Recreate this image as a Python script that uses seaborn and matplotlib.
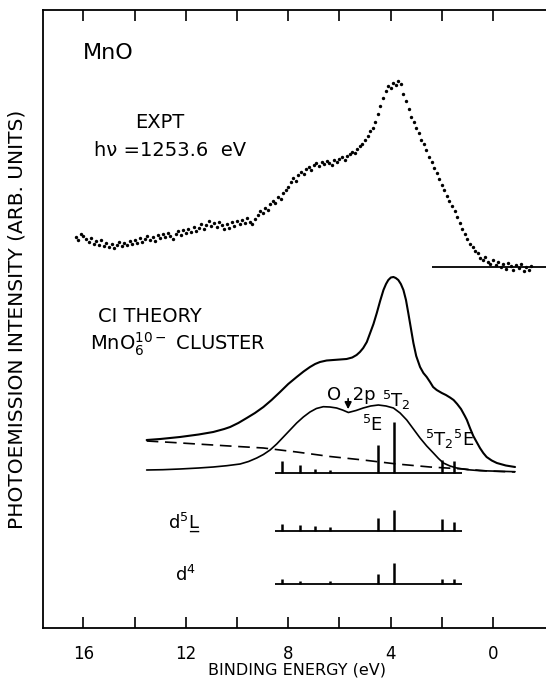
import numpy as np
import pandas as pd
import matplotlib
matplotlib.use("Agg")
import matplotlib.pyplot as plt
import seaborn as sns

# experimental XPS dots (binding energy eV, intensity arb.)
expt_E = [16.3, 16.2, 16.1, 16.0, 15.9, 15.8, 15.7, 15.6, 15.5, 15.4, 15.3, 15.2, 15.1, 15.0,
          14.9, 14.8, 14.7, 14.6, 14.5, 14.4, 14.3, 14.2, 14.1, 14.0, 13.9, 13.8, 13.7, 13.6,
          13.5, 13.4, 13.3, 13.2, 13.1, 13.0, 12.9, 12.8, 12.7, 12.6, 12.5, 12.4, 12.3, 12.2,
          12.1, 12.0, 11.9, 11.8, 11.7, 11.6, 11.5, 11.4, 11.3, 11.2, 11.1, 11.0, 10.9, 10.8,
          10.7, 10.6, 10.5, 10.4, 10.3, 10.2, 10.1, 10.0, 9.9, 9.8, 9.7, 9.6, 9.5, 9.4, 9.3,
          9.2, 9.1, 9.0, 8.9, 8.8, 8.7, 8.6, 8.5, 8.4, 8.3, 8.2, 8.1, 8.0, 7.9, 7.8, 7.7, 7.6,
          7.5, 7.4, 7.3, 7.2, 7.1, 7.0, 6.9, 6.8, 6.7, 6.6, 6.5, 6.4, 6.3, 6.2, 6.1, 6.0, 5.9,
          5.8, 5.7, 5.6, 5.5, 5.4, 5.3, 5.2, 5.1, 5.0, 4.9, 4.8, 4.7, 4.6, 4.5, 4.4, 4.3, 4.2,
          4.1, 4.0, 3.9, 3.8, 3.7, 3.6, 3.5, 3.4, 3.3, 3.2, 3.1, 3.0, 2.9, 2.8, 2.7, 2.6, 2.5,
          2.4, 2.3, 2.2, 2.1, 2.0, 1.9, 1.8, 1.7, 1.6, 1.5, 1.4, 1.3, 1.2, 1.1, 1.0, 0.9, 0.8,
          0.7, 0.6, 0.5, 0.4, 0.3, 0.2, 0.1, 0.0, -0.1, -0.2, -0.3, -0.4, -0.5, -0.6, -0.7,
          -0.8, -0.9, -1.0, -1.1, -1.2, -1.3, -1.4, -1.5]
expt_I = [391, 388, 394, 392, 389, 386, 390, 384, 387, 383, 388, 382, 385, 381,
          384, 380, 383, 386, 382, 385, 383, 387, 384, 388, 385, 390, 386, 389,
          392, 388, 391, 387, 393, 390, 394, 391, 395, 392, 389, 394, 397, 393,
          398, 395, 399, 396, 401, 397, 400, 404, 399, 403, 407, 402, 405, 401,
          406, 403, 399, 404, 400, 406, 402, 407, 404, 408, 405, 410, 406, 404, 409,
          413, 417, 415, 420, 418, 424, 427, 425, 431, 429, 435, 438, 441, 446, 450, 447, 453,
          456, 454, 459, 461, 458, 463, 465, 462, 466, 464, 467, 465, 463, 468, 466, 469, 471,
          468, 472, 474, 476, 475, 479, 482, 484, 488, 492, 497, 500, 506, 514, 522, 530, 537,
          542, 540, 545, 543, 547, 544, 534, 527, 519, 511, 506, 500, 495, 488, 484, 478, 471,
          466, 460, 455, 449, 443, 438, 432, 427, 422, 417, 411, 405, 399, 394, 389, 384, 381,
          377, 375, 370, 368, 371, 366, 364, 368, 363, 366, 361, 364, 359, 365, 362,
          358, 363, 360, 364, 357, 361, 358, 362]
expt_base = 361
expt_base_E = [2.39, -2.1]

# CI theory, total spectrum
total_E = [13.53, 13.0, 12.23, 11.5, 10.93, 10.5, 10.27, 9.95, 9.62, 9.3, 8.97, 8.65, 8.32,
           8.0, 7.67, 7.4, 7.15, 6.95, 6.76, 6.5, 6.24, 5.98, 5.72, 5.5, 5.33, 5.2, 5.07,
           4.93, 4.80, 4.67, 4.54, 4.41, 4.28, 4.18, 4.09, 3.99, 3.89, 3.80, 3.70, 3.60,
           3.50, 3.40, 3.31, 3.21, 3.11, 3.0, 2.85, 2.72, 2.59, 2.46, 2.34, 2.2, 2.0, 1.84,
           1.68, 1.54, 1.40, 1.25, 1.1, 1.02, 0.9, 0.77, 0.64, 0.51, 0.38, 0.25, 0.05,
           -0.15, -0.5, -0.86]
total_I = [188, 189, 191, 193.5, 196, 199, 201, 205, 210, 215, 221, 228, 236,
           244, 251, 256.5, 261, 264, 266, 267.5, 268, 268.5, 269, 270.5, 273, 276, 280,
           286, 295, 304, 315, 327, 338, 344, 348, 350.5, 351, 350, 348, 344,
           338, 328, 315, 300, 285, 272, 261, 255, 251, 246, 241, 238, 235, 233,
           230.5, 228, 224, 219, 212, 208, 200, 192, 186, 180, 175, 171, 167.5,
           165, 162.5, 161]

# O 2p partial curve
o2p_E = [13.53, 12.9, 12.23, 11.5, 10.93, 10.4, 9.88, 9.55, 9.23, 8.97, 8.71, 8.45, 8.19,
         7.93, 7.67, 7.41, 7.15, 6.9, 6.63, 6.37, 6.11, 5.88, 5.65, 5.35, 5.07, 4.78, 4.48,
         4.18, 3.89, 3.63, 3.37, 3.11, 2.85, 2.59, 2.33, 2.13, 1.94, 1.68, 1.42, 1.0, 0.51,
         -0.86]
o2p_I = [158, 158.3, 159, 160, 161, 162.3, 164, 166.5, 170, 173.5, 178, 184, 191,
         198, 205, 211, 216, 219.5, 221.3, 221, 220, 218, 215.5, 217.5, 220, 222, 223,
         222, 220, 215, 208, 199, 190, 182, 175, 169.5, 165, 162, 160, 158.3, 157.3,
         156.3]

# dashed background
bg_E = [13.53, 12.5, 11.57, 10.3, 8.97, 7.67, 6.37, 5.07, 3.76, 2.46, 1.16, 0.2, -0.86]
bg_I = [187, 185.5, 184, 182, 180, 176, 171.5, 168, 164, 161, 159, 157, 156]

# stick spectra: total, d5L, d4
stick_E = [8.25, 7.54, 6.95, 6.37, 4.48, 3.85, 1.98, 1.52]
stick_total = [12, 8, 4, 3, 28, 51, 13, 12]
stick_d5L = [7, 6, 5, 4, 13, 21, 12, 9]
d4_E = [8.25, 7.54, 6.37, 4.48, 3.85, 1.98, 1.52]
stick_d4 = [5, 3, 3, 10, 21, 5, 5]
row_base = [155, 97, 44]
row_span = [8.52, 1.22]

o2p_arrow_E = 5.66

sns.set_theme(style="white")
plt.rcParams['font.family'] = ['DejaVu Sans']
plt.rcParams['text.color'] = 'black'
plt.rcParams['axes.labelcolor'] = 'black'

fig = plt.figure(figsize=(5.46, 6.79), dpi=100)
ax = fig.add_axes([43 / 546, 1 - 628 / 679, 503 / 546, 618 / 679])

ink = "black"
sns.scatterplot(x=expt_E, y=expt_I, s=6, color=ink, linewidth=0, ax=ax)
ax.hlines(expt_base, expt_base_E[0], expt_base_E[1], color=ink, lw=1.3)

line_kw = dict(color=ink, sort=False, estimator=None, ax=ax, solid_joinstyle="round")
sns.lineplot(x=total_E, y=total_I, lw=1.5, **line_kw)
sns.lineplot(x=o2p_E, y=o2p_I, lw=1.2, **line_kw)
sns.lineplot(x=bg_E, y=bg_I, color=ink, lw=1.2, sort=False, estimator=None,
             linestyle=(0, (7, 4)), ax=ax)

# stick rows
for base, heights, xs in zip(row_base, [stick_total, stick_d5L, stick_d4],
                             [stick_E, stick_E, d4_E]):
    ax.hlines(base, row_span[0], row_span[1], color=ink, lw=1.3)
    ax.vlines(xs, base, [base + h for h in heights], color=ink, lw=1.8)

ax.annotate("", xy=(o2p_arrow_E, 216), xytext=(o2p_arrow_E, 232),
            arrowprops=dict(arrowstyle="-|>", color=ink, lw=1.2, mutation_scale=10))

ax.text(16.02, 575, "MnO", fontsize=16, ha="left", va="center")
ax.text(13.0, 506, "EXPT", fontsize=14, ha="center", va="center")
ax.text(12.62, 478, "h\u03bd =1253.6  eV", fontsize=14, ha="center", va="center")
ax.text(15.43, 312, "CI THEORY", fontsize=14, ha="left", va="center")
ax.text(15.74, 284, r"MnO$_6^{10-}$ CLUSTER", fontsize=14, ha="left", va="center")
ax.text(6.48, 233, "O  2p", fontsize=13, ha="left", va="center")
ax.text(4.34, 228, r"$^5$T$_2$", fontsize=13, ha="left", va="center")
ax.text(5.12, 203, r"$^5$E", fontsize=13, ha="left", va="center")
ax.text(2.66, 189, r"$^5$T$_2$$^5$E", fontsize=13, ha="left", va="center")
ax.text(12.7, 106, "d$^5$L\u0332", fontsize=13, ha="left", va="center")
ax.text(12.42, 53, "d$^4$", fontsize=13, ha="left", va="center")

ax.set_xlim(17.58, -2.07)
ax.set_ylim(0, 618)
ax.set_xticks([16, 14, 12, 10, 8, 6, 4, 2, 0])
ax.set_xticklabels(["16", "", "12", "", "8", "", "4", "", "0"])
ax.set_yticks([])
ax.tick_params(axis="x", direction="in", length=8, width=1.2, top=True, labeltop=False,
               bottom=True, pad=12, labelsize=12, colors=ink)
for side in ["left", "bottom", "top"]:
    ax.spines[side].set_color(ink)
    ax.spines[side].set_linewidth(1.3)
ax.spines["right"].set_visible(False)

ax.set_xlabel("BINDING ENERGY (eV)", fontsize=11.5)
ax.xaxis.set_label_coords(0.505, -0.0755)
ax.xaxis.label.set_verticalalignment("baseline")
ax.set_ylabel("PHOTOEMISSION INTENSITY (ARB. UNITS)", fontsize=14.5)
ax.yaxis.set_label_coords(-0.032, 0.5)

fig.savefig("out.png", dpi=100)
